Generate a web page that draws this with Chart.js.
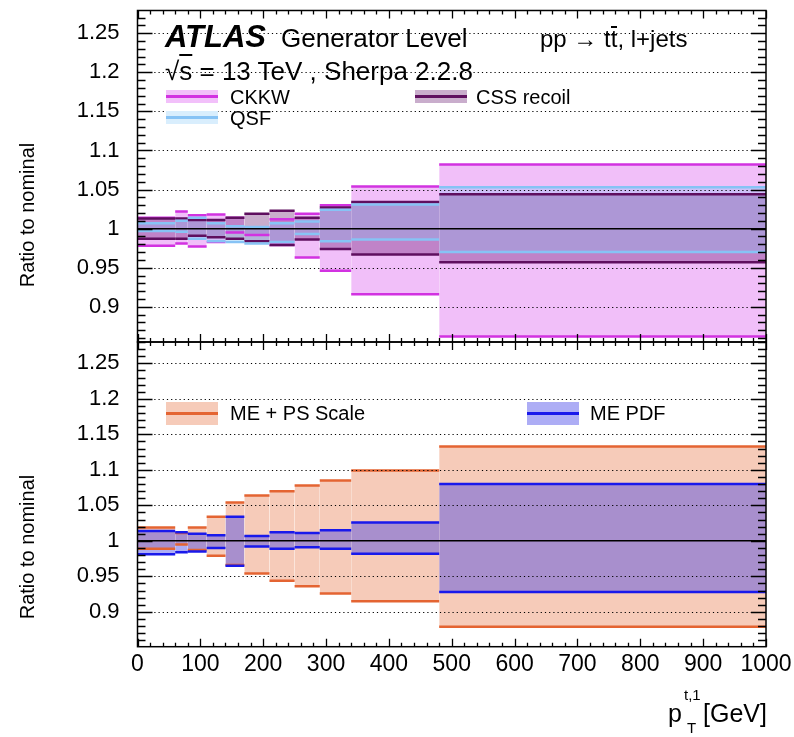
<!DOCTYPE html>
<html>
<head>
<meta charset="utf-8">
<script src="https://cdn.jsdelivr.net/npm/chart.js@4.4.1/dist/chart.umd.min.js"></script>
<style>
  body { margin: 0; background: #fff; }
  #page { position: relative; width: 794px; height: 737px; overflow: hidden; font-family: 'Liberation Sans', Arial, sans-serif; color: #000; }
  canvas { position: absolute; left: 0; }
  .t { position: absolute; white-space: nowrap; line-height: 1; }
  .sw { position: absolute; width: 52px; }
  .sw i { position: absolute; left: 0; right: 0; top: 50%; height: 3px; margin-top: -1.5px; }
  .ov { text-decoration: overline; }
  .bar { position: relative; }
  .bar b { position: absolute; left: 0; right: 0; top: 1px; height: 1.5px; background: #000; }
</style>
</head>
<body>
<div id="page">
  <canvas id="topCanvas" width="794" height="360" style="top:0"></canvas>
  <canvas id="bottomCanvas" width="794" height="407" style="top:330px"></canvas>

  <div class="t" style="left:165px;top:21px;font-size:31px;font-weight:bold;font-style:italic">ATLAS</div>
  <div class="t" style="left:281px;top:25px;font-size:26px">Generator Level</div>
  <div class="t" style="left:540px;top:27px;font-size:24px">pp → t<span class="bar">t<b></b></span>, l+jets</div>
  <div class="t" style="left:165px;top:58px;font-size:26px">√<span class="ov">s</span> = 13 TeV , Sherpa 2.2.8</div>

  <div class="sw" style="left:166px;top:90px;height:13px;background:rgb(242,192,250)"><i style="background:rgb(210,50,225)"></i></div>
  <div class="t" style="left:230px;top:87px;font-size:20px">CKKW</div>
  <div class="sw" style="left:166px;top:111px;height:13px;background:rgb(217,238,253)"><i style="background:rgb(135,195,245)"></i></div>
  <div class="t" style="left:230px;top:108px;font-size:20px">QSF</div>
  <div class="sw" style="left:415px;top:90px;height:13px;background:rgb(201,173,204)"><i style="background:rgb(95,15,95)"></i></div>
  <div class="t" style="left:476px;top:87px;font-size:20px">CSS recoil</div>

  <div class="sw" style="left:166px;top:402px;height:23px;background:rgb(246,203,185)"><i style="background:rgb(228,100,50)"></i></div>
  <div class="t" style="left:230px;top:403px;font-size:20px">ME + PS Scale</div>
  <div class="sw" style="left:527px;top:402px;height:23px;background:rgb(173,173,245)"><i style="background:rgb(25,25,235)"></i></div>
  <div class="t" style="left:590px;top:403px;font-size:20px">ME PDF</div>

  <div class="t" style="left:27px;top:215px;font-size:20px;transform:translate(-50%,-50%) rotate(-90deg)">Ratio to nominal</div>
  <div class="t" style="left:27px;top:547px;font-size:20px;transform:translate(-50%,-50%) rotate(-90deg)">Ratio to nominal</div>

  <div class="t" style="left:668px;top:701px;font-size:25px">p</div>
  <div class="t" style="left:684px;top:687px;font-size:15px">t,1</div>
  <div class="t" style="left:687px;top:720px;font-size:15px">T</div>
  <div class="t" style="left:703px;top:701px;font-size:25px">[GeV]</div>
</div>

<script>
// bin edges in pT [GeV]
const binEdges = [0, 60, 80, 110, 140, 170, 210, 250, 290, 340, 480, 1000];

// top panel: Sherpa 2.2.8 variations
const ckkwUp   = [1.014, 1.022, 1.017, 1.018, 1.014, 1.001, 1.012, 1.019, 1.030, 1.054, 1.082];
const ckkwDown = [0.978, 0.981, 0.977, 0.983, 0.995, 0.992, 0.979, 0.963, 0.946, 0.916, 0.862];
const cssUp    = [1.013, 1.013, 1.011, 1.011, 1.014, 1.019, 1.023, 1.014, 1.027, 1.034, 1.044];
const cssDown  = [0.987, 0.987, 0.991, 0.989, 0.987, 0.984, 0.979, 0.986, 0.974, 0.967, 0.957];
const qsfUp    = [1.007, 1.010, 1.014, 1.007, 1.003, 1.002, 1.007, 1.009, 1.024, 1.031, 1.053];
const qsfDown  = [0.997, 0.996, 0.987, 0.984, 0.983, 0.981, 0.983, 0.993, 0.984, 0.986, 0.970];

// bottom panel: ME+PS scale and ME PDF
const scaleUp   = [1.019, 1.011, 1.019, 1.034, 1.054, 1.064, 1.070, 1.078, 1.085, 1.099, 1.133];
const scaleDown = [0.989, 0.995, 0.987, 0.979, 0.966, 0.954, 0.944, 0.936, 0.926, 0.915, 0.879];
const pdfUp     = [1.014, 1.012, 1.010, 1.008, 1.034, 1.007, 1.012, 1.011, 1.015, 1.026, 1.080];
const pdfDown   = [0.981, 0.984, 0.985, 0.990, 0.965, 0.992, 0.989, 0.991, 0.989, 0.982, 0.928];

// axis ticks
const xTickValues = [0, 100, 200, 300, 400, 500, 600, 700, 800, 900, 1000];
const yTickValues = [0.9, 0.95, 1, 1.05, 1.1, 1.15, 1.2, 1.25];

const FONT = "'Liberation Sans', Arial, sans-serif";

function histPoints(values) {
    const pts = [];
    values.forEach((v, i) => {
        pts.push({ x: binEdges[i], y: v });
        pts.push({ x: binEdges[i + 1], y: v });
    });
    return pts;
}

// one edge of a band; the upper edge fills down to the next dataset
function bandEdge(values, lineColor, fillColor) {
    return {
        data: histPoints(values),
        borderColor: lineColor,
        borderWidth: 2.5,
        backgroundColor: fillColor || 'transparent',
        fill: fillColor ? '+1' : false,
        pointRadius: 0,
        segment: {
            // no vertical lines between bins
            borderColor: ctx => ctx.p0.parsed.x === ctx.p1.parsed.x ? 'rgba(0,0,0,0)' : undefined
        }
    };
}

const nominal = () => ({
    data: [{ x: 0, y: 1 }, { x: 1000, y: 1 }],
    borderColor: '#000',
    borderWidth: 1.5,
    pointRadius: 0,
    fill: false
});

// ROOT style frame, inward ticks and dotted grid
const rootFrame = {
    id: 'rootFrame',
    afterDatasetsDraw(chart, args, opts) {
        const { ctx, chartArea: a, scales: { x, y } } = chart;
        ctx.save();
        ctx.strokeStyle = '#000';
        ctx.lineWidth = 1.1;
        ctx.setLineDash([1.2, 3]);
        yTickValues.forEach(v => {
            if (v === 1) return;
            const py = Math.round(y.getPixelForValue(v)) + 0.5;
            ctx.beginPath();
            ctx.moveTo(a.left, py);
            ctx.lineTo(a.right, py);
            ctx.stroke();
        });
        ctx.setLineDash([]);
        ctx.lineWidth = 1.3;
        ctx.beginPath();
        for (let k = Math.ceil(y.min * 100); k <= Math.floor(y.max * 100); k++) {
            const len = k % 5 === 0 ? opts.yMajor : opts.yMinor;
            const py = Math.round(y.getPixelForValue(k / 100)) + 0.5;
            ctx.moveTo(a.left, py); ctx.lineTo(a.left + len, py);
            ctx.moveTo(a.right, py); ctx.lineTo(a.right - len, py);
        }
        for (let k = 0; k <= 50; k++) {
            const len = k % 5 === 0 ? opts.xMajor : opts.xMinor;
            const px = Math.round(x.getPixelForValue(k * 20)) + 0.5;
            ctx.moveTo(px, a.top); ctx.lineTo(px, a.top + len);
            ctx.moveTo(px, a.bottom); ctx.lineTo(px, a.bottom - len);
        }
        ctx.stroke();
        ctx.lineWidth = 1.5;
        ctx.strokeRect(a.left, a.top, a.right - a.left, a.bottom - a.top);
        ctx.restore();
    }
};

function noPadding(s) {
    s.paddingTop = 0;
    s.paddingBottom = 0;
    s.paddingLeft = 0;
    s.paddingRight = 0;
}

function makeOptions(yMin, yMax, pad, xHeight, showX, ticks) {
    return {
        responsive: false,
        animation: false,
        events: [],
        layout: { padding: pad },
        plugins: {
            legend: { display: false },
            tooltip: { enabled: false },
            filler: { drawTime: 'beforeDatasetsDraw' },
            rootFrame: ticks
        },
        scales: {
            x: {
                type: 'linear',
                min: 0,
                max: 1000,
                afterBuildTicks: s => { s.ticks = xTickValues.map(v => ({ value: v })); },
                afterFit: s => { s.height = xHeight; noPadding(s); },
                ticks: {
                    display: showX,
                    autoSkip: false,
                    maxRotation: 0,
                    padding: 4,
                    color: '#000',
                    font: { family: FONT, size: 23 },
                    callback: v => String(v)
                },
                grid: { display: false, drawTicks: false },
                border: { display: false }
            },
            y: {
                type: 'linear',
                min: yMin,
                max: yMax,
                afterBuildTicks: s => { s.ticks = yTickValues.map(v => ({ value: v })); },
                afterFit: s => { s.width = 137.5; noPadding(s); },
                ticks: {
                    padding: 18,
                    color: '#000',
                    font: { family: FONT, size: 22 },
                    callback: v => String(+v.toFixed(2))
                },
                grid: { display: false, drawTicks: false },
                border: { display: false }
            }
        }
    };
}

new Chart(document.getElementById('topCanvas'), {
    type: 'line',
    data: {
        datasets: [
            nominal(),
            bandEdge(qsfUp, 'rgb(135,195,245)', 'rgba(130,200,250,0.3)'),
            bandEdge(qsfDown, 'rgb(135,195,245)'),
            bandEdge(cssUp, 'rgb(95,15,95)', 'rgba(100,20,110,0.35)'),
            bandEdge(cssDown, 'rgb(95,15,95)'),
            bandEdge(ckkwUp, 'rgb(210,50,225)', 'rgba(228,128,244,0.5)'),
            bandEdge(ckkwDown, 'rgb(210,50,225)')
        ]
    },
    options: makeOptions(0.855, 1.279, { left: 0, top: 10.5, right: 28, bottom: 0 }, 18, false,
        { yMajor: 15, yMinor: 8, xMajor: 8, xMinor: 4 }),
    plugins: [rootFrame]
});

new Chart(document.getElementById('bottomCanvas'), {
    type: 'line',
    data: {
        datasets: [
            nominal(),
            bandEdge(pdfUp, 'rgb(25,25,235)', 'rgba(60,60,230,0.42)'),
            bandEdge(pdfDown, 'rgb(25,25,235)'),
            bandEdge(scaleUp, 'rgb(228,100,50)', 'rgba(235,140,100,0.45)'),
            bandEdge(scaleDown, 'rgb(228,100,50)')
        ]
    },
    options: makeOptions(0.851, 1.28, { left: 0, top: 12, right: 28, bottom: 0 }, 90.3, true,
        { yMajor: 15, yMinor: 8, xMajor: 8, xMinor: 4 }),
    plugins: [rootFrame]
});
</script>
</body>
</html>
